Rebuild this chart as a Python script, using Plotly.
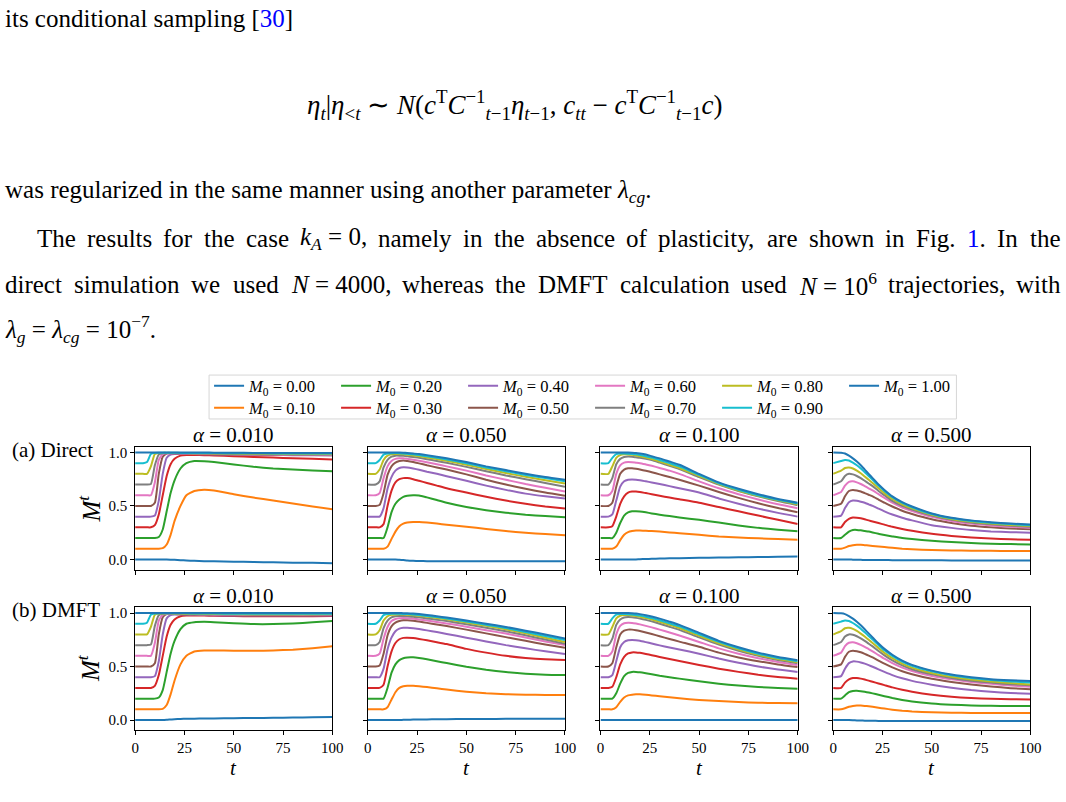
import plotly.graph_objects as go

# ---------------- data ----------------
T = [0, 4, 6, 8, 10, 12, 14, 16, 18, 20, 23, 26, 30, 35, 40, 50, 60, 70, 80, 90, 100]
M0_LABELS = ["0.00", "0.10", "0.20", "0.30", "0.40", "0.50", "0.60", "0.70", "0.80", "0.90", "1.00"]
ALPHA_LABELS = ["0.010", "0.050", "0.100", "0.500"]
COLORS = ["#1f77b4", "#ff7f0e", "#2ca02c", "#d62728", "#9467bd", "#8c564b",
          "#e377c2", "#7f7f7f", "#bcbd22", "#17becf", "#1f77b4"]

direct_a010 = [
    [0, 0, 0, 0, 0, 0, 0, 0, -0.002, -0.004, -0.007, -0.01, -0.013, -0.016, -0.018, -0.021, -0.024, -0.027, -0.03, -0.032, -0.035],
    [0.1, 0.1, 0.1, 0.1, 0.1, 0.1, 0.105, 0.14, 0.23, 0.36, 0.5, 0.6, 0.64, 0.652, 0.645, 0.61, 0.578, 0.55, 0.522, 0.495, 0.47],
    [0.2, 0.2, 0.2, 0.2, 0.2, 0.21, 0.28, 0.45, 0.62, 0.74, 0.85, 0.9, 0.92, 0.918, 0.91, 0.888, 0.866, 0.85, 0.84, 0.832, 0.825],
    [0.3, 0.3, 0.3, 0.3, 0.32, 0.42, 0.6, 0.78, 0.89, 0.94, 0.97, 0.977, 0.976, 0.974, 0.972, 0.965, 0.958, 0.952, 0.946, 0.94, 0.935],
    [0.4, 0.4, 0.4, 0.4, 0.41, 0.55, 0.8, 0.95, 0.98, 0.986, 0.987, 0.987, 0.985, 0.983, 0.982, 0.98, 0.978, 0.976, 0.975, 0.974, 0.973],
    [0.5, 0.5, 0.5, 0.5, 0.53, 0.8, 0.96, 0.99, 0.992, 0.991, 0.99, 0.989, 0.987, 0.985, 0.984, 0.982, 0.98, 0.978, 0.977, 0.976, 0.975],
    [0.6, 0.6, 0.6, 0.6, 0.72, 0.93, 0.985, 0.992, 0.993, 0.992, 0.991, 0.99, 0.989, 0.987, 0.986, 0.984, 0.982, 0.98, 0.979, 0.978, 0.977],
    [0.7, 0.7, 0.7, 0.705, 0.88, 0.98, 0.993, 0.994, 0.994, 0.994, 0.993, 0.992, 0.991, 0.99, 0.988, 0.986, 0.984, 0.983, 0.982, 0.981, 0.98],
    [0.8, 0.8, 0.8, 0.87, 0.985, 0.995, 0.996, 0.996, 0.996, 0.995, 0.995, 0.994, 0.993, 0.992, 0.991, 0.99, 0.988, 0.987, 0.986, 0.985, 0.985],
    [0.9, 0.9, 0.91, 0.985, 0.996, 0.997, 0.997, 0.997, 0.997, 0.997, 0.996, 0.996, 0.995, 0.995, 0.994, 0.993, 0.992, 0.991, 0.99, 0.99, 0.99],
    [1, 1, 1, 1, 1, 1, 1, 1, 1, 1, 1, 1, 0.999, 0.999, 0.998, 0.997, 0.996, 0.995, 0.995, 0.994, 0.994],
]

direct_a050 = [
    [0, 0, 0, 0, 0, 0, 0, -0.003, -0.006, -0.01, -0.013, -0.015, -0.016, -0.017, -0.018, -0.018, -0.018, -0.018, -0.018, -0.017, -0.017],
    [0.1, 0.1, 0.1, 0.1, 0.12, 0.19, 0.26, 0.31, 0.335, 0.345, 0.35, 0.35, 0.345, 0.335, 0.325, 0.305, 0.285, 0.265, 0.25, 0.237, 0.227],
    [0.2, 0.2, 0.2, 0.2, 0.3, 0.44, 0.52, 0.56, 0.585, 0.595, 0.6, 0.598, 0.58, 0.555, 0.53, 0.49, 0.46, 0.437, 0.418, 0.405, 0.395],
    [0.3, 0.3, 0.3, 0.33, 0.5, 0.64, 0.72, 0.75, 0.76, 0.76, 0.75, 0.735, 0.715, 0.69, 0.665, 0.625, 0.585, 0.55, 0.52, 0.495, 0.475],
    [0.4, 0.4, 0.4, 0.48, 0.66, 0.77, 0.83, 0.855, 0.862, 0.86, 0.85, 0.838, 0.82, 0.8, 0.778, 0.735, 0.69, 0.65, 0.615, 0.59, 0.57],
    [0.5, 0.5, 0.51, 0.62, 0.79, 0.87, 0.905, 0.92, 0.925, 0.92, 0.91, 0.898, 0.88, 0.86, 0.84, 0.795, 0.745, 0.7, 0.66, 0.625, 0.595],
    [0.6, 0.6, 0.62, 0.76, 0.87, 0.92, 0.94, 0.945, 0.945, 0.94, 0.932, 0.922, 0.908, 0.89, 0.87, 0.83, 0.785, 0.745, 0.705, 0.67, 0.635],
    [0.7, 0.7, 0.73, 0.86, 0.93, 0.96, 0.97, 0.97, 0.968, 0.964, 0.957, 0.95, 0.937, 0.92, 0.903, 0.865, 0.825, 0.785, 0.75, 0.715, 0.68],
    [0.8, 0.8, 0.84, 0.93, 0.97, 0.982, 0.985, 0.985, 0.982, 0.978, 0.972, 0.965, 0.953, 0.938, 0.922, 0.885, 0.845, 0.808, 0.773, 0.74, 0.71],
    [0.9, 0.9, 0.93, 0.98, 0.99, 0.993, 0.994, 0.993, 0.99, 0.987, 0.982, 0.975, 0.965, 0.95, 0.935, 0.9, 0.86, 0.825, 0.79, 0.76, 0.73],
    [1, 1, 1, 1, 1, 1, 1, 1, 0.998, 0.995, 0.99, 0.985, 0.975, 0.96, 0.945, 0.91, 0.87, 0.835, 0.8, 0.77, 0.745],
]

direct_a100 = [
    [0, 0, 0, 0, 0, 0, 0, 0, 0, 0.002, 0.004, 0.006, 0.008, 0.01, 0.012, 0.015, 0.018, 0.02, 0.022, 0.025, 0.028],
    [0.1, 0.1, 0.1, 0.12, 0.18, 0.23, 0.255, 0.265, 0.27, 0.27, 0.268, 0.265, 0.26, 0.252, 0.245, 0.23, 0.215, 0.205, 0.197, 0.19, 0.183],
    [0.2, 0.2, 0.2, 0.25, 0.34, 0.41, 0.44, 0.45, 0.45, 0.448, 0.44, 0.43, 0.418, 0.405, 0.392, 0.37, 0.345, 0.318, 0.295, 0.278, 0.264],
    [0.3, 0.3, 0.31, 0.4, 0.52, 0.59, 0.625, 0.634, 0.634, 0.63, 0.62, 0.61, 0.595, 0.578, 0.562, 0.53, 0.49, 0.45, 0.41, 0.37, 0.332],
    [0.4, 0.4, 0.42, 0.55, 0.68, 0.73, 0.745, 0.748, 0.745, 0.74, 0.73, 0.72, 0.705, 0.685, 0.665, 0.625, 0.57, 0.52, 0.475, 0.435, 0.4],
    [0.5, 0.5, 0.53, 0.68, 0.8, 0.84, 0.852, 0.852, 0.847, 0.84, 0.828, 0.815, 0.795, 0.77, 0.745, 0.69, 0.63, 0.575, 0.525, 0.48, 0.441],
    [0.6, 0.6, 0.64, 0.8, 0.88, 0.905, 0.91, 0.908, 0.904, 0.9, 0.888, 0.875, 0.855, 0.83, 0.8, 0.73, 0.665, 0.61, 0.56, 0.515, 0.478],
    [0.7, 0.7, 0.76, 0.89, 0.94, 0.958, 0.962, 0.96, 0.955, 0.95, 0.94, 0.928, 0.905, 0.875, 0.845, 0.77, 0.7, 0.64, 0.59, 0.545, 0.507],
    [0.8, 0.8, 0.87, 0.95, 0.975, 0.982, 0.982, 0.978, 0.972, 0.965, 0.952, 0.938, 0.915, 0.885, 0.855, 0.78, 0.705, 0.645, 0.595, 0.552, 0.515],
    [0.9, 0.9, 0.95, 0.985, 0.99, 0.99, 0.989, 0.986, 0.982, 0.976, 0.965, 0.952, 0.93, 0.9, 0.87, 0.79, 0.712, 0.652, 0.6, 0.557, 0.522],
    [1, 1, 1, 1, 1, 1, 1, 0.998, 0.995, 0.99, 0.98, 0.965, 0.945, 0.915, 0.885, 0.8, 0.72, 0.66, 0.61, 0.565, 0.53],
]

direct_a500 = [
    [0, 0, 0, 0, -0.002, -0.003, -0.004, -0.005, -0.005, -0.005, -0.006, -0.006, -0.007, -0.007, -0.008, -0.008, -0.009, -0.009, -0.01, -0.01, -0.01],
    [0.1, 0.1, 0.11, 0.125, 0.133, 0.137, 0.136, 0.133, 0.13, 0.126, 0.12, 0.115, 0.108, 0.1, 0.095, 0.088, 0.084, 0.082, 0.08, 0.079, 0.078],
    [0.2, 0.2, 0.23, 0.26, 0.275, 0.276, 0.272, 0.266, 0.26, 0.252, 0.24, 0.228, 0.215, 0.2, 0.19, 0.175, 0.162, 0.153, 0.147, 0.143, 0.14],
    [0.3, 0.3, 0.35, 0.38, 0.392, 0.39, 0.385, 0.375, 0.365, 0.355, 0.34, 0.325, 0.305, 0.285, 0.268, 0.24, 0.22, 0.205, 0.195, 0.188, 0.183],
    [0.4, 0.41, 0.48, 0.535, 0.55, 0.548, 0.54, 0.53, 0.515, 0.5, 0.475, 0.45, 0.42, 0.39, 0.365, 0.32, 0.295, 0.275, 0.262, 0.255, 0.25],
    [0.5, 0.52, 0.59, 0.64, 0.65, 0.645, 0.635, 0.62, 0.605, 0.59, 0.56, 0.53, 0.495, 0.455, 0.425, 0.375, 0.34, 0.315, 0.3, 0.29, 0.282],
    [0.6, 0.63, 0.69, 0.725, 0.73, 0.72, 0.705, 0.685, 0.665, 0.645, 0.61, 0.575, 0.53, 0.485, 0.452, 0.398, 0.36, 0.335, 0.318, 0.305, 0.296],
    [0.7, 0.73, 0.78, 0.8, 0.795, 0.78, 0.76, 0.735, 0.71, 0.685, 0.64, 0.6, 0.548, 0.5, 0.466, 0.41, 0.37, 0.345, 0.328, 0.315, 0.306],
    [0.8, 0.83, 0.855, 0.86, 0.85, 0.83, 0.805, 0.775, 0.745, 0.715, 0.665, 0.62, 0.565, 0.515, 0.478, 0.418, 0.378, 0.352, 0.335, 0.322, 0.313],
    [0.9, 0.92, 0.93, 0.925, 0.905, 0.88, 0.85, 0.815, 0.78, 0.745, 0.69, 0.64, 0.582, 0.528, 0.488, 0.425, 0.385, 0.36, 0.342, 0.33, 0.32],
    [1, 0.998, 0.99, 0.97, 0.945, 0.915, 0.88, 0.84, 0.8, 0.76, 0.7, 0.65, 0.59, 0.535, 0.495, 0.43, 0.39, 0.365, 0.348, 0.335, 0.326],
]

dmft_a010 = [
    [0, 0, 0, 0, 0, 0, 0, 0.002, 0.005, 0.008, 0.01, 0.012, 0.013, 0.014, 0.015, 0.017, 0.019, 0.021, 0.023, 0.025, 0.028],
    [0.1, 0.1, 0.1, 0.1, 0.1, 0.1, 0.105, 0.14, 0.24, 0.37, 0.52, 0.6, 0.64, 0.65, 0.65, 0.648, 0.647, 0.65, 0.658, 0.672, 0.69],
    [0.2, 0.2, 0.2, 0.2, 0.2, 0.21, 0.28, 0.45, 0.62, 0.74, 0.85, 0.9, 0.915, 0.918, 0.915, 0.905, 0.897, 0.897, 0.903, 0.913, 0.925],
    [0.3, 0.3, 0.3, 0.3, 0.32, 0.42, 0.6, 0.78, 0.89, 0.94, 0.97, 0.977, 0.977, 0.976, 0.974, 0.972, 0.97, 0.97, 0.97, 0.971, 0.972],
    [0.4, 0.4, 0.4, 0.4, 0.41, 0.55, 0.8, 0.95, 0.98, 0.986, 0.986, 0.985, 0.983, 0.981, 0.979, 0.977, 0.976, 0.976, 0.976, 0.977, 0.978],
    [0.5, 0.5, 0.5, 0.5, 0.53, 0.8, 0.96, 0.99, 0.991, 0.99, 0.989, 0.987, 0.985, 0.983, 0.982, 0.98, 0.979, 0.979, 0.979, 0.98, 0.981],
    [0.6, 0.6, 0.6, 0.6, 0.72, 0.93, 0.985, 0.992, 0.993, 0.993, 0.992, 0.99, 0.988, 0.986, 0.985, 0.983, 0.982, 0.982, 0.982, 0.983, 0.984],
    [0.7, 0.7, 0.7, 0.705, 0.88, 0.98, 0.993, 0.995, 0.995, 0.994, 0.993, 0.992, 0.99, 0.989, 0.988, 0.986, 0.985, 0.985, 0.985, 0.986, 0.987],
    [0.8, 0.8, 0.8, 0.87, 0.985, 0.995, 0.996, 0.997, 0.997, 0.996, 0.995, 0.994, 0.993, 0.992, 0.991, 0.99, 0.989, 0.989, 0.989, 0.989, 0.99],
    [0.9, 0.9, 0.91, 0.985, 0.996, 0.997, 0.998, 0.998, 0.998, 0.998, 0.997, 0.997, 0.996, 0.995, 0.995, 0.994, 0.993, 0.993, 0.993, 0.993, 0.993],
    [1, 1, 1, 1, 1, 1, 1, 1, 1, 1, 1, 1, 1, 1, 1, 1, 1, 1, 1, 1, 1],
]

dmft_a050 = [
    [0, 0, 0, 0, 0, 0, 0, 0, 0.002, 0.003, 0.004, 0.005, 0.006, 0.007, 0.008, 0.009, 0.01, 0.011, 0.011, 0.012, 0.012],
    [0.1, 0.1, 0.1, 0.1, 0.12, 0.19, 0.26, 0.3, 0.315, 0.32, 0.32, 0.316, 0.308, 0.296, 0.285, 0.265, 0.25, 0.242, 0.237, 0.235, 0.234],
    [0.2, 0.2, 0.2, 0.2, 0.3, 0.44, 0.52, 0.56, 0.578, 0.585, 0.586, 0.58, 0.568, 0.55, 0.532, 0.498, 0.47, 0.448, 0.432, 0.423, 0.42],
    [0.3, 0.3, 0.3, 0.33, 0.5, 0.64, 0.72, 0.755, 0.768, 0.77, 0.766, 0.758, 0.745, 0.728, 0.71, 0.665, 0.63, 0.6, 0.58, 0.567, 0.56],
    [0.4, 0.4, 0.4, 0.48, 0.66, 0.77, 0.83, 0.855, 0.863, 0.863, 0.858, 0.85, 0.838, 0.822, 0.805, 0.77, 0.735, 0.7, 0.67, 0.642, 0.617],
    [0.5, 0.5, 0.51, 0.62, 0.79, 0.875, 0.91, 0.925, 0.932, 0.932, 0.928, 0.92, 0.908, 0.893, 0.878, 0.845, 0.81, 0.775, 0.74, 0.706, 0.676],
    [0.6, 0.6, 0.62, 0.76, 0.87, 0.925, 0.945, 0.952, 0.954, 0.952, 0.947, 0.94, 0.93, 0.916, 0.903, 0.872, 0.84, 0.808, 0.772, 0.735, 0.7],
    [0.7, 0.7, 0.73, 0.86, 0.93, 0.96, 0.97, 0.972, 0.972, 0.97, 0.965, 0.96, 0.95, 0.938, 0.925, 0.895, 0.863, 0.83, 0.792, 0.752, 0.713],
    [0.8, 0.8, 0.84, 0.93, 0.97, 0.983, 0.987, 0.988, 0.987, 0.985, 0.98, 0.975, 0.966, 0.954, 0.941, 0.912, 0.88, 0.848, 0.81, 0.77, 0.73],
    [0.9, 0.9, 0.93, 0.98, 0.99, 0.993, 0.994, 0.994, 0.992, 0.99, 0.986, 0.981, 0.973, 0.962, 0.95, 0.922, 0.89, 0.86, 0.823, 0.786, 0.748],
    [1, 1, 1, 1, 1, 1, 1, 1, 0.999, 0.998, 0.995, 0.99, 0.982, 0.97, 0.958, 0.93, 0.9, 0.87, 0.835, 0.8, 0.763],
]

dmft_a100 = [
    [0, 0, 0, 0, 0, 0, 0, 0, 0, 0, 0, 0, 0, 0, 0, 0, 0, 0, 0, 0, 0],
    [0.1, 0.1, 0.1, 0.12, 0.17, 0.21, 0.23, 0.237, 0.24, 0.24, 0.236, 0.23, 0.222, 0.212, 0.203, 0.188, 0.177, 0.168, 0.162, 0.158, 0.156],
    [0.2, 0.2, 0.2, 0.25, 0.34, 0.41, 0.44, 0.45, 0.45, 0.447, 0.438, 0.428, 0.414, 0.4, 0.387, 0.362, 0.34, 0.322, 0.308, 0.299, 0.293],
    [0.3, 0.3, 0.31, 0.4, 0.52, 0.59, 0.622, 0.632, 0.632, 0.628, 0.618, 0.606, 0.59, 0.57, 0.552, 0.515, 0.48, 0.45, 0.423, 0.402, 0.386],
    [0.4, 0.4, 0.42, 0.55, 0.68, 0.73, 0.745, 0.748, 0.745, 0.74, 0.728, 0.715, 0.698, 0.678, 0.66, 0.62, 0.575, 0.535, 0.5, 0.472, 0.45],
    [0.5, 0.5, 0.53, 0.68, 0.8, 0.835, 0.845, 0.845, 0.84, 0.832, 0.818, 0.804, 0.783, 0.758, 0.733, 0.685, 0.63, 0.585, 0.55, 0.52, 0.495],
    [0.6, 0.6, 0.64, 0.8, 0.88, 0.905, 0.91, 0.908, 0.902, 0.894, 0.88, 0.866, 0.845, 0.818, 0.79, 0.73, 0.67, 0.62, 0.578, 0.543, 0.515],
    [0.7, 0.7, 0.76, 0.89, 0.94, 0.958, 0.962, 0.96, 0.955, 0.948, 0.936, 0.922, 0.9, 0.872, 0.843, 0.772, 0.705, 0.648, 0.6, 0.56, 0.53],
    [0.8, 0.8, 0.87, 0.95, 0.975, 0.982, 0.982, 0.978, 0.972, 0.965, 0.953, 0.94, 0.918, 0.89, 0.86, 0.788, 0.718, 0.66, 0.61, 0.57, 0.54],
    [0.9, 0.9, 0.95, 0.985, 0.99, 0.99, 0.989, 0.986, 0.982, 0.976, 0.966, 0.953, 0.933, 0.905, 0.875, 0.802, 0.73, 0.67, 0.62, 0.58, 0.55],
    [1, 1, 1, 1, 1, 1, 1, 0.998, 0.995, 0.99, 0.98, 0.967, 0.948, 0.92, 0.89, 0.815, 0.74, 0.68, 0.63, 0.59, 0.56],
]

dmft_a500 = [
    [0, 0, 0, 0, -0.002, -0.004, -0.005, -0.006, -0.007, -0.007, -0.008, -0.008, -0.009, -0.009, -0.01, -0.01, -0.01, -0.01, -0.01, -0.01, -0.01],
    [0.1, 0.1, 0.11, 0.124, 0.132, 0.136, 0.135, 0.132, 0.128, 0.123, 0.115, 0.107, 0.097, 0.087, 0.08, 0.072, 0.068, 0.066, 0.065, 0.065, 0.065],
    [0.2, 0.2, 0.23, 0.26, 0.272, 0.274, 0.27, 0.264, 0.257, 0.249, 0.236, 0.223, 0.206, 0.188, 0.174, 0.155, 0.143, 0.136, 0.133, 0.131, 0.13],
    [0.3, 0.3, 0.35, 0.38, 0.393, 0.392, 0.387, 0.378, 0.368, 0.358, 0.342, 0.326, 0.305, 0.283, 0.265, 0.237, 0.218, 0.206, 0.199, 0.195, 0.193],
    [0.4, 0.41, 0.48, 0.532, 0.548, 0.546, 0.538, 0.527, 0.513, 0.498, 0.474, 0.45, 0.42, 0.39, 0.366, 0.33, 0.302, 0.28, 0.264, 0.253, 0.246],
    [0.5, 0.52, 0.59, 0.638, 0.648, 0.643, 0.633, 0.618, 0.602, 0.585, 0.556, 0.527, 0.492, 0.456, 0.428, 0.385, 0.356, 0.332, 0.313, 0.298, 0.287],
    [0.6, 0.63, 0.69, 0.722, 0.727, 0.718, 0.703, 0.684, 0.663, 0.642, 0.607, 0.573, 0.532, 0.49, 0.458, 0.412, 0.38, 0.356, 0.338, 0.322, 0.31],
    [0.7, 0.73, 0.78, 0.8, 0.797, 0.783, 0.763, 0.74, 0.714, 0.688, 0.645, 0.605, 0.558, 0.511, 0.475, 0.427, 0.393, 0.368, 0.35, 0.335, 0.324],
    [0.8, 0.83, 0.858, 0.862, 0.852, 0.833, 0.808, 0.78, 0.75, 0.72, 0.672, 0.628, 0.578, 0.528, 0.49, 0.44, 0.404, 0.379, 0.36, 0.345, 0.333],
    [0.9, 0.92, 0.93, 0.925, 0.907, 0.882, 0.853, 0.82, 0.786, 0.752, 0.7, 0.652, 0.6, 0.547, 0.507, 0.455, 0.418, 0.393, 0.374, 0.361, 0.35],
    [1, 0.997, 0.99, 0.972, 0.948, 0.918, 0.885, 0.848, 0.81, 0.772, 0.715, 0.665, 0.61, 0.555, 0.515, 0.462, 0.425, 0.4, 0.382, 0.372, 0.364],
]

PANELS = [[direct_a010, direct_a050, direct_a100, direct_a500],
          [dmft_a010, dmft_a050, dmft_a100, dmft_a500]]
ROW_LABELS = ["(a) Direct", "(b) DMFT"]

BLUE = "#0000ff"
# body text lines; justified lines are given word by word with approximate widths (em)
LINE1 = f"its conditional sampling [<span style='color:{BLUE}'>30</span>]"
FORMULA = ("<i>η<sub>t</sub></i>|<i>η</i><sub>&lt;<i>t</i></sub> ∼ "
           "<i>N</i>(<i>c</i><sup>T</sup><i>C</i><sup>−1</sup><sub><i>t</i>−1</sub><i>η</i><sub><i>t</i>−1</sub>, "
           "<i>c<sub>tt</sub></i> − <i>c</i><sup>T</sup><i>C</i><sup>−1</sup><sub><i>t</i>−1</sub><i>c</i>)")
LINE3 = "was regularized in the same manner using another parameter <i>λ<sub>cg</sub></i>."
WORDS4 = [("The", 1.555), ("results", 2.611), ("for", 1.166), ("the", 1.222), ("case", 1.721),
          ("<i>k<sub>A</sub></i> = 0,", 2.684), ("namely", 2.944), ("in", 0.778), ("the", 1.222),
          ("absence", 3.165), ("of", 0.833), ("plasticity,", 3.917), ("are", 1.221), ("shown", 2.611),
          ("in", 0.778), ("Fig.", 1.584), (f"<span style='color:{BLUE}'>1</span>.", 0.75),
          ("In", 0.833), ("the", 1.222)]
WORDS5 = [("direct", 2.277), ("simulation", 4.223), ("we", 1.166), ("used", 1.833),
          ("<i>N</i> = 4000,", 3.981), ("whereas", 3.276), ("the", 1.222), ("DMFT", 2.778),
          ("calculation", 4.388), ("used", 1.833), ("<i>N</i> = 10<sup>6</sup>", 3.081),
          ("trajectories,", 4.693), ("with", 1.778)]
LINE6 = "<i>λ<sub>g</sub></i> = <i>λ<sub>cg</sub></i> = 10<sup>−7</sup>."

# ---------------- layout helpers ----------------
W, H = 1066, 802
SERIF = "Liberation Serif"
BODY = 25
LPAD = 6    # annotation inner offset on the left


def fx(x):
    return x / W


def fy(y):
    return 1 - y / H


COL_PX = [(133, 333), (369, 569), (605, 805), (841, 1041)]
ROW_PX = [(446, 569), (607, 730)]
YR = [-0.095, 1.052]

fig = go.Figure()
layout = dict(
    width=W, height=H,
    margin=dict(l=0, r=0, t=0, b=0),
    paper_bgcolor="white", plot_bgcolor="white",
    showlegend=True,
    font=dict(family=SERIF, color="black", size=14),
)

for r in range(2):
    for c in range(4):
        n = r * 4 + c + 1
        xa = "xaxis" if n == 1 else f"xaxis{n}"
        ya = "yaxis" if n == 1 else f"yaxis{n}"
        xref = "x" if n == 1 else f"x{n}"
        yref = "y" if n == 1 else f"y{n}"
        layout[xa] = dict(
            domain=[fx(COL_PX[c][0]), fx(COL_PX[c][1])], anchor=yref,
            range=[0, 100], tickvals=[0, 25, 50, 75, 100],
            showticklabels=(r == 1), ticks="outside", ticklen=4, tickwidth=1,
            tickcolor="black", showline=True, linecolor="black", linewidth=1,
            mirror=True, showgrid=False, zeroline=False,
            tickfont=dict(family=SERIF, size=15, color="black"),
        )
        layout[ya] = dict(
            domain=[fy(ROW_PX[r][1]), fy(ROW_PX[r][0])], anchor=xref,
            range=YR, tickvals=[0, 0.5, 1.0], ticktext=["0.0", "0.5", "1.0"],
            showticklabels=(c == 0), ticks="outside", ticklen=4, tickwidth=1,
            tickcolor="black", showline=True, linecolor="black", linewidth=1,
            mirror=True, showgrid=False, zeroline=False,
            tickfont=dict(family=SERIF, size=15, color="black"),
        )
        data = PANELS[r][c]
        for k, ys in enumerate(data):
            fig.add_trace(go.Scatter(
                x=T, y=ys, mode="lines",
                line=dict(color=COLORS[k], width=2, shape="spline", smoothing=0.5),
                name=f"<i>M</i><sub>0</sub> = {M0_LABELS[k]}",
                xaxis=xref, yaxis=yref,
                showlegend=(n == 1),
                legend=("legend" if k % 2 == 0 else "legend2"),
                hoverinfo="skip",
            ))

leg_common = dict(
    orientation="h", xanchor="left", yanchor="middle",
    entrywidth=82, entrywidthmode="pixels", itemwidth=30,
    font=dict(family=SERIF, size=16.5, color="black"),
    bgcolor="rgba(0,0,0,0)", borderwidth=0, traceorder="normal",
)
layout["legend"] = dict(leg_common, x=fx(208), y=fy(385))
layout["legend2"] = dict(leg_common, x=fx(208), y=fy(407))

shapes = [dict(type="rect", xref="paper", yref="paper",
               x0=fx(208), x1=fx(966), y0=fy(418), y1=fy(374),
               line=dict(color="#d6d6d6", width=1), fillcolor="rgba(0,0,0,0)")]

ann = []


def text(x, y, s, size=BODY, xanchor="left", angle=0):
    ann.append(dict(x=fx(x), y=fy(y), xref="paper", yref="paper", text=s,
                    showarrow=False, xanchor=xanchor, yanchor="middle",
                    textangle=angle,
                    font=dict(family=SERIF, size=size, color="black")))


def justify(words, left, right, y, size=BODY):
    total = sum(w for _, w in words) * size
    gap = (right - left - total) / (len(words) - 1)
    x = left
    for s, w in words:
        text(x - LPAD, y, s, size)
        x += w * size + gap


text(5 - LPAD, 17, LINE1)
text(518, 103, FORMULA, size=27, xanchor="center")
text(5 - LPAD, 190, LINE3)
justify(WORDS4, 37, 1075, 237)
justify(WORDS5, 5, 1075, 283)
text(5 - LPAD, 328, LINE6)

# panel titles
for r, yc in enumerate([434, 595]):
    for c in range(4):
        cx = (COL_PX[c][0] + COL_PX[c][1]) / 2
        text(cx, yc, f"<i>α</i> = {ALPHA_LABELS[c]}", size=21, xanchor="center")
# row labels
text(12 - LPAD, 449, ROW_LABELS[0], size=21)
text(12 - LPAD, 610, ROW_LABELS[1], size=21)
# y titles
for yc in [508, 668]:
    text(86, yc, "<i>M<sup>t</sup></i>", size=25, xanchor="center", angle=-90)
# x titles
for c in range(4):
    cx = (COL_PX[c][0] + COL_PX[c][1]) / 2
    text(cx, 768, "<i>t</i>", size=21, xanchor="center")

layout["annotations"] = ann
layout["shapes"] = shapes
fig.update_layout(**layout)
fig.write_html("out.html")
